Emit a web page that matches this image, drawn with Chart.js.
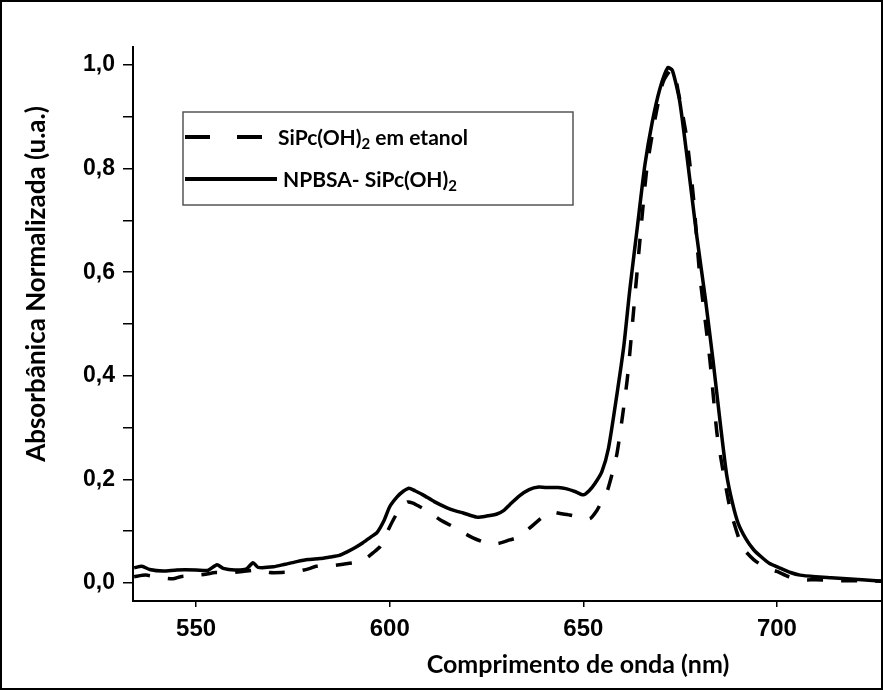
<!DOCTYPE html>
<html>
<head>
<meta charset="utf-8">
<script src="https://cdn.jsdelivr.net/npm/chart.js@4"></script>
<style>
body{margin:0;background:#fff;}
</style>
</head>
<body>
<canvas id="grafico" width="883" height="690"></canvas>
<script>
// SiPc(OH)2 em etanol (linha tracejada)
let onda_etanol = [534, 537, 541, 544, 546, 549, 552, 555, 558, 562, 566, 569, 572, 576, 579, 581, 585, 588, 591.6, 594, 595.7, 597.5, 598.8, 600.8, 602.5, 604.5, 606, 607.8, 610, 613, 617, 619, 621.5, 625, 628, 631, 633.6, 636, 638, 641.4, 644, 646.5, 649, 651.7, 653.5, 654.8, 656.3, 658.7, 661.3, 662.8, 664.6, 666.4, 668.5, 670.5, 672.5, 673.5, 674.5, 676.7, 678.5, 680, 682.7, 684.5, 686, 688, 691, 694, 697, 700, 703, 706, 710, 714, 718, 722, 727.4];
let abs_etanol = [0.012, 0.015, 0.010, 0.008, 0.012, 0.014, 0.016, 0.020, 0.019, 0.022, 0.025, 0.020, 0.020, 0.022, 0.027, 0.032, 0.033, 0.036, 0.040, 0.048, 0.058, 0.070, 0.090, 0.120, 0.142, 0.156, 0.154, 0.147, 0.138, 0.122, 0.106, 0.097, 0.087, 0.077, 0.076, 0.083, 0.089, 0.105, 0.118, 0.137, 0.134, 0.131, 0.127, 0.124, 0.140, 0.158, 0.180, 0.25, 0.39, 0.51, 0.66, 0.80, 0.895, 0.965, 0.99, 0.985, 0.95, 0.86, 0.74, 0.60, 0.43, 0.29, 0.22, 0.14, 0.07, 0.045, 0.03, 0.022, 0.012, 0.006, 0.006, 0.005, 0.004, 0.004, 0.003];

// NPBSA- SiPc(OH)2 (linha continua)
let onda_npbsa = [534, 536, 538, 541.5, 545, 550, 553, 555.4, 557, 560, 563, 564.7, 566, 570, 573, 576, 579, 582, 584.6, 587, 589, 591, 593, 595, 596.7, 598.5, 600, 601.9, 603.5, 605, 606.5, 608.6, 611.5, 614.8, 617, 619, 622.5, 625, 627.7, 629.5, 631, 633.5, 636, 638.5, 641, 643.5, 645.5, 648, 650, 651.5, 653, 654.8, 656.5, 658.7, 660.5, 662, 664, 665.9, 667.8, 669.8, 671.8, 673, 674.9, 677, 679.3, 681.5, 683.5, 685.5, 687, 688.5, 690, 692, 694, 696, 698, 701, 703.5, 706, 710, 714, 718, 722, 727.4];
let abs_npbsa = [0.029, 0.032, 0.026, 0.023, 0.025, 0.025, 0.024, 0.035, 0.028, 0.025, 0.027, 0.039, 0.030, 0.031, 0.036, 0.041, 0.045, 0.047, 0.050, 0.053, 0.060, 0.068, 0.077, 0.088, 0.097, 0.120, 0.147, 0.166, 0.177, 0.183, 0.178, 0.170, 0.157, 0.145, 0.139, 0.135, 0.127, 0.129, 0.133, 0.140, 0.151, 0.168, 0.180, 0.185, 0.184, 0.184, 0.182, 0.176, 0.170, 0.178, 0.192, 0.215, 0.26, 0.365, 0.46, 0.566, 0.69, 0.807, 0.89, 0.955, 0.995, 0.99, 0.93, 0.81, 0.67, 0.55, 0.43, 0.30, 0.21, 0.155, 0.115, 0.085, 0.064, 0.050, 0.038, 0.028, 0.020, 0.015, 0.012, 0.010, 0.008, 0.006, 0.003];

let x_min = 533.7, x_max = 727.4; // eixo Ox
let y_min = -0.035, y_max = 1.035; // eixo Oy
let titulo_x = 'Comprimento de onda (nm)';
let titulo_y = 'Absorbânica Normalizada (u.a.)';

function pontos(xs, ys){ // junta os pares x,y
    return xs.map(function(v, i){ return {x: v, y: ys[i]}; });
}

function texto_sub(ctx, partes, x, y){ // texto com subscrito
    partes.forEach(function(p){
        if(p.sub){
            ctx.font = 'bold 15px Lato';
            ctx.fillText(p.t, x, y + 6);
        } else {
            ctx.font = 'bold 21px Lato';
            ctx.fillText(p.t, x, y);
        }
        x += ctx.measureText(p.t).width;
    });
}

const extras = {
    id: 'extras',
    afterDraw: function(chart){
        const ctx = chart.ctx;
        ctx.save();
        ctx.fillStyle = '#000';
        ctx.textBaseline = 'middle';
        // titulos dos eixos
        ctx.font = 'bold 25px Lato';
        ctx.textAlign = 'center';
        ctx.fillText(titulo_x, 578, 665);
        ctx.save();
        ctx.translate(37, 284);
        ctx.rotate(-Math.PI / 2);
        ctx.font = 'bold 26px Lato';
        ctx.fillText(titulo_y, 0, 0);
        ctx.restore();
        // legenda
        ctx.strokeStyle = '#555';
        ctx.lineWidth = 1.5;
        ctx.strokeRect(183, 112, 390, 93);
        ctx.strokeStyle = '#000';
        ctx.lineWidth = 4;
        ctx.setLineDash([25, 27]);
        ctx.beginPath(); ctx.moveTo(185, 137); ctx.lineTo(265, 137); ctx.stroke();
        ctx.setLineDash([]);
        ctx.beginPath(); ctx.moveTo(185, 179); ctx.lineTo(277, 179); ctx.stroke();
        ctx.textAlign = 'left';
        texto_sub(ctx, [{t: 'SiPc(OH)'}, {t: '2', sub: true}, {t: ' em etanol'}], 278, 138);
        texto_sub(ctx, [{t: 'NPBSA- SiPc(OH)'}, {t: '2', sub: true}], 283, 180);
        // moldura
        ctx.lineWidth = 2;
        ctx.strokeRect(1, 1, 881, 688);
        ctx.restore();
    }
};

let data = {
    datasets: [{
        label: 'SiPc(OH)2 em etanol',
        data: pontos(onda_etanol, abs_etanol),
        borderColor: '#000',
        borderWidth: 3.5,
        borderDash: [16, 18],
        pointRadius: 0,
        tension: 0.2
    }, {
        label: 'NPBSA- SiPc(OH)2',
        data: pontos(onda_npbsa, abs_npbsa),
        borderColor: '#000',
        borderWidth: 3.5,
        pointRadius: 0,
        tension: 0.2
    }]
};

let config = {
    type: 'line',
    data: data,
    plugins: [extras],
    options: {
        responsive: false,
        animation: false,
        layout: {padding: {top: 47, right: 0, left: 0, bottom: 0}},
        plugins: {legend: {display: false}, tooltip: {enabled: false}},
        scales: {
            x: {
                type: 'linear',
                min: x_min,
                max: x_max,
                afterFit: function(s){ s.height = 89; },
                border: {display: true, color: '#000', width: 2},
                grid: {display: true, drawOnChartArea: false, drawTicks: true, tickLength: 6, color: '#000', lineWidth: 1.5},
                ticks: {stepSize: 50, includeBounds: false, color: '#000', padding: 8, maxRotation: 0,
                        font: {family: 'Liberation Sans', weight: 'bold', size: 24},
                        callback: function(v){ return String(v); }}
            },
            y: {
                min: y_min,
                max: y_max,
                afterFit: function(s){ s.width = 133; },
                border: {display: true, color: '#000', width: 2},
                grid: {display: true, drawOnChartArea: false, drawTicks: true, tickLength: 10, color: '#000', lineWidth: 1.5},
                ticks: {stepSize: 0.1, includeBounds: false, color: '#000', padding: 8,
                        font: {family: 'Liberation Sans', weight: 'bold', size: 23},
                        callback: function(v){
                            let n = Math.round(v * 10);
                            return n % 2 === 0 ? (n / 10).toFixed(1).replace('.', ',') : '';
                        }}
            }
        }
    }
};

const grafico = new Chart(document.getElementById('grafico'), config);
</script>
</body>
</html>
